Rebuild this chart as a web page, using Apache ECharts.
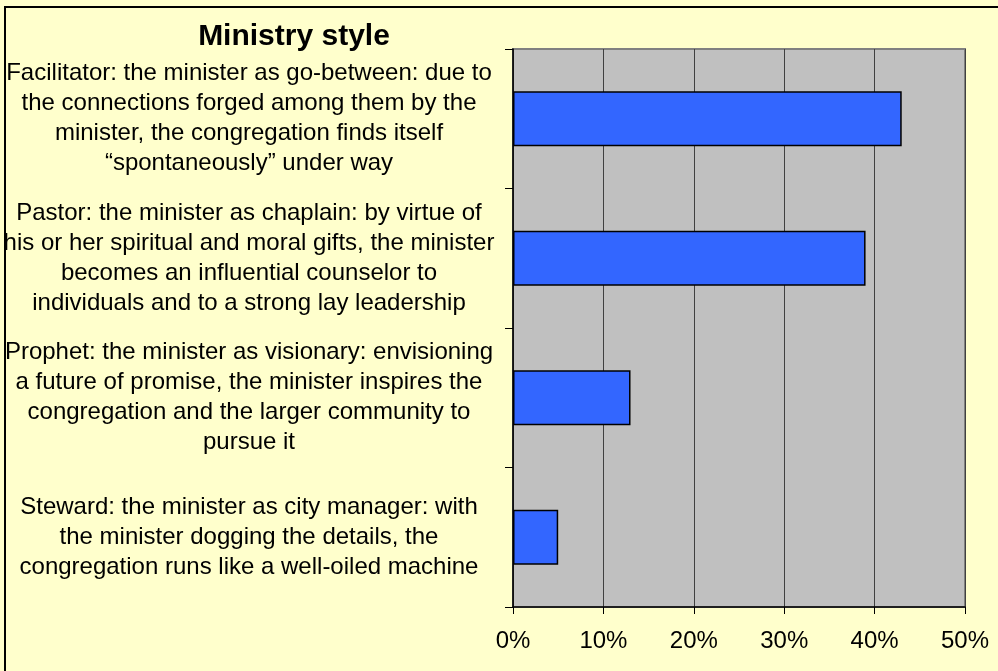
<!DOCTYPE html>
<html lang="en">
  <head>
    <meta charset="utf-8" />
    <title>Ministry style</title>
    <script src="https://cdn.jsdelivr.net/npm/echarts@6/dist/echarts.min.js"></script>
    <style>
      html, body { margin: 0; padding: 0; background: #ffffcc; }
      #chart { width: 998px; height: 671px; }
    </style>
  </head>
  <body>
    <div id="chart"></div>
    <script>
      // ministry styles, top to bottom, with the line breaks of the original
      var styles = [
        'Facilitator: the minister as go-between: due to\nthe connections forged among them by the\nminister, the congregation finds itself\n\u201cspontaneously\u201d under way',
        'Pastor: the minister as chaplain: by virtue of\nhis or her spiritual and moral gifts, the minister\nbecomes an influential counselor to\nindividuals and to a strong lay leadership',
        'Prophet: the minister as visionary: envisioning\na future of promise, the minister inspires the\ncongregation and the larger community to\npursue it',
        'Steward: the minister as city manager: with\nthe minister dogging the details, the\ncongregation runs like a well-oiled machine'
      ]
      var shares = [43, 39, 13, 5]
      var axisMax = 50
      var axisStep = 10

      var chart = echarts.init(document.getElementById('chart'))
      chart.setOption({
        backgroundColor: '#ffffcc',
        animation: false,
        title: {
          text: 'Ministry style',
          left: 289,
          top: 17,
          textAlign: 'center',
          textStyle: { fontFamily: 'Arial', fontWeight: 'bold', fontSize: 30, color: '#000' }
        },
        // outer frame of the chart
        graphic: [{
          type: 'rect',
          shape: { x: 5, y: 7, width: 1010, height: 700 },
          style: { fill: 'none', stroke: '#000', lineWidth: 2 },
          silent: true
        }],
        grid: {
          left: 513, top: 49, right: 33, bottom: 64,
          show: true,
          backgroundColor: '#c0c0c0',
          borderColor: '#808080',
          borderWidth: 2
        },
        xAxis: {
          type: 'value',
          min: 0,
          max: axisMax,
          interval: axisStep,
          axisLine: { show: true, lineStyle: { color: '#000', width: 1.5 } },
          axisTick: { show: true, length: 7, lineStyle: { color: '#000' } },
          axisLabel: {
            formatter: '{value}%',
            margin: 22,
            fontFamily: 'Arial',
            fontSize: 24,
            color: '#000'
          },
          splitLine: { show: true, lineStyle: { color: '#404040', width: 1 } }
        },
        yAxis: {
          type: 'category',
          inverse: true,
          data: styles,
          axisLine: { show: true, lineStyle: { color: '#000', width: 1.5 } },
          axisTick: { show: true, length: 8, lineStyle: { color: '#000' } },
          axisLabel: {
            align: 'center',
            margin: 264,
            fontFamily: 'Arial',
            fontSize: 24,
            lineHeight: 30,
            color: '#000'
          }
        },
        series: [{
          type: 'bar',
          data: shares,
          barWidth: 55,
          itemStyle: { color: '#3366ff', borderColor: '#000', borderWidth: 1.5 }
        }]
      })
    </script>
  </body>
</html>
